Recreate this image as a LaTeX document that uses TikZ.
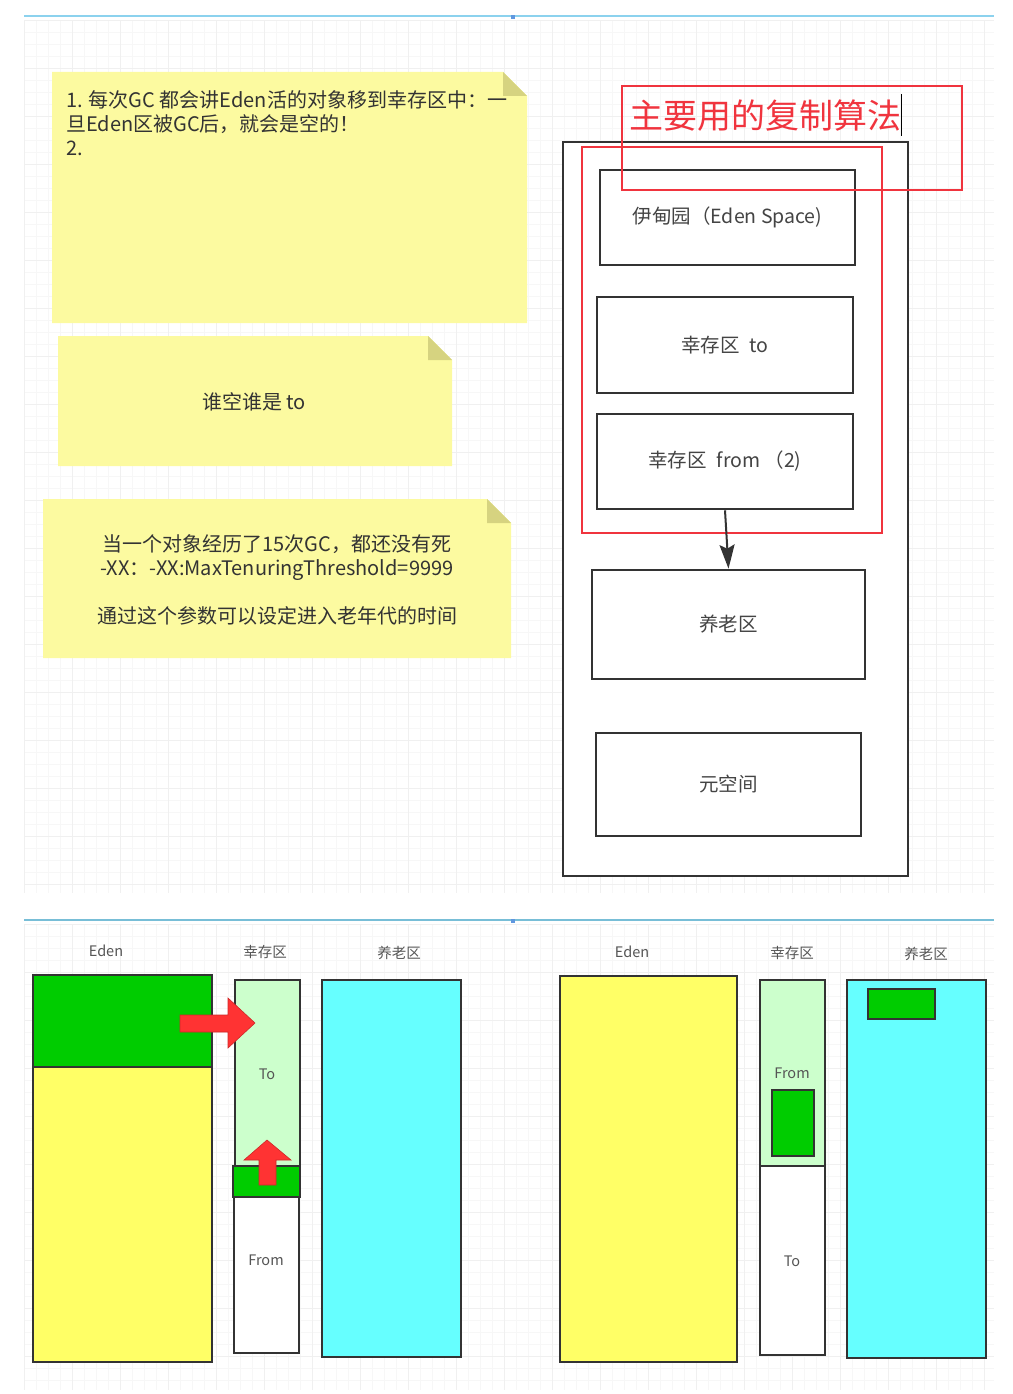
\documentclass[tikz,border=0pt]{standalone}
\usepackage{fontspec}
\newfontfamily\cjk{Noto Sans CJK SC}
\usetikzlibrary{arrows.meta}
\definecolor{notefill}{RGB}{252,250,160}
\definecolor{notefold}{RGB}{214,211,128}
\definecolor{linegray}{RGB}{51,51,51}
\definecolor{notegray}{RGB}{51,51,51}
\definecolor{boxgray}{RGB}{68,68,68}
\definecolor{labelgray}{RGB}{85,85,85}
\definecolor{redline}{RGB}{240,52,62}
\definecolor{edenyellow}{RGB}{255,255,102}
\definecolor{objgreen}{RGB}{0,204,0}
\definecolor{survgreen}{RGB}{204,255,204}
\definecolor{oldcyan}{RGB}{102,255,255}
\definecolor{arrowred}{RGB}{255,51,51}
\definecolor{arrowedge}{RGB}{205,40,40}
\definecolor{pageblue}{RGB}{140,210,238}
\definecolor{pageblue2}{RGB}{120,190,215}
\newcommand{\stickynote}[4]{%
	\fill[notefill] (#1,#2) -- ({#3-24},#2) -- (#3,{#2+24}) -- (#3,#4) -- (#1,#4) -- cycle;
	\fill[notefold] ({#3-24},#2) -- ({#3-24},{#2+24}) -- (#3,{#2+24}) -- cycle;}

\begin{document}
\begin{tikzpicture}[x=1pt,y=-1pt,
	membox/.style={draw=linegray,line width=2.6pt,fill=white,inner sep=0pt,text=boxgray,font={\cjk\fontsize{19.5}{24}\selectfont}},
	redframe/.style={draw=redline,line width=2pt,inner sep=0pt},
	notetext/.style={inner sep=0pt,text=notegray,font={\cjk\fontsize{20}{24}\selectfont}},
	zonelabel/.style={inner sep=0pt,text=labelgray,font={\cjk\fontsize{14.5}{17}\selectfont}},
	blockline/.style={draw=linegray,line width=2pt},
	bigarrow/.style={fill=arrowred,draw=arrowedge,line width=0.6pt},
	minorgrid/.style={gray!6,line width=0.6pt},
	majorgrid/.style={gray!12,line width=0.6pt}]
	\useasboundingbox (0,0) rectangle (1012,1394);
	%GRID
	\foreach \gx in {24,36,...,994} {\draw[minorgrid] (\gx,20) -- (\gx,893); \draw[minorgrid] (\gx,924) -- (\gx,1390);}
	\foreach \gy in {20,32,...,893,924,936,...,1390} \draw[minorgrid] (24,\gy) -- (994,\gy);
	\foreach \gx in {24,72,...,994} {\draw[majorgrid] (\gx,20) -- (\gx,893); \draw[majorgrid] (\gx,924) -- (\gx,1390);}
	\foreach \gy in {20,68,...,893,924,972,...,1390} \draw[majorgrid] (24,\gy) -- (994,\gy);
	\draw[pageblue,line width=2pt] (24,16) -- (994,16);
	\fill[pageblue2!80!blue] (511,15) rectangle (515,19);
	\draw[pageblue2,line width=2pt] (24,920) -- (994,920);
	\fill[pageblue2!80!blue] (511,919) rectangle (515,923);
	%NOTES
	\stickynote{52}{72}{527}{323}
	\node[notetext,anchor=north west,align=left] (note1) at (66,90) {1. 每次GC 都会讲Eden活的对象移到幸存区中：一\\旦Eden区被GC后，就会是空的！\\2.};
	\stickynote{58}{336}{452}{466}
	\node[notetext] (note2) at (254,402) {谁空谁是 to};
	\stickynote{43}{499}{511}{658}
	\node[notetext,align=center] (note3) at (277,580) {当一个对象经历了15次GC，都还没有死\\-XX：-XX:MaxTenuringThreshold=9999\\[24pt]通过这个参数可以设定进入老年代的时间};
	%HEAP
	\node[membox,minimum width=345pt,minimum height=734pt] (heap) at (735.5,509) {};
	\node[redframe,minimum width=300pt,minimum height=386pt] (copyzone) at (732,340) {};
	\node[membox,fill=none,minimum width=255pt,minimum height=95pt] (edenb) at (727.5,217.5) {伊甸园（Eden Space)};
	\node[membox,minimum width=256pt,minimum height=96pt] (tob) at (725,345) {幸存区\enspace to};
	\node[membox,minimum width=256pt,minimum height=95pt] (fromb) at (725,461.5) {幸存区\enspace from （2)};
	\node[membox,minimum width=273pt,minimum height=109pt] (oldb) at (728.5,624.5) {养老区};
	\node[membox,minimum width=265pt,minimum height=103pt] (metab) at (728.5,784.5) {元空间};
	\draw[linegray,line width=2pt,-{Stealth[length=24pt,width=15pt,inset=4pt]}] (fromb.south) -- (oldb.north);
	\node[redframe,minimum width=340pt,minimum height=104pt] (titlebox) at (792,138) {};
	\node[inner sep=0pt,anchor=west,text=redline,font={\cjk\fontsize{34}{38}\selectfont}] (titletext) at (629,116) {主要用的复制算法};
	\draw[black,line width=1pt] (901,94) -- (901,136);
	%BEFORE GC
	\node[zonelabel] (edenl1) at (106,951) {Eden};
	\node[zonelabel] (survl1) at (265,952) {幸存区};
	\node[zonelabel] (oldl1) at (399,953) {养老区};
	\draw[blockline,fill=edenyellow] (33,975) rectangle (212,1362);
	\draw[blockline,fill=objgreen] (33,975) rectangle (212,1067);
	\draw[blockline,fill=survgreen] (235,980) rectangle (300,1166);
	\draw[blockline,fill=white] (234,1197) rectangle (299,1353);
	\draw[blockline,fill=objgreen] (233,1166) rectangle (300,1197);
	\draw[blockline,fill=oldcyan] (322,980) rectangle (461,1357);
	\node[zonelabel] (tol1) at (267,1074) {To};
	\node[zonelabel] (froml1) at (266,1260) {From};
	\draw[bigarrow] (180,1015) -- (228,1015) -- (228,998) -- (255,1023) -- (228,1048) -- (228,1032) -- (180,1032) -- cycle;
	\draw[bigarrow] (259,1185) -- (259,1160) -- (244,1160) -- (267,1140) -- (291,1160) -- (276,1160) -- (276,1185) -- cycle;
	%AFTER GC
	\node[zonelabel] (edenl2) at (632,952) {Eden};
	\node[zonelabel] (survl2) at (792,953) {幸存区};
	\node[zonelabel] (oldl2) at (926,954) {养老区};
	\draw[blockline,fill=edenyellow] (560,976) rectangle (737,1362);
	\draw[blockline,fill=survgreen] (760,980) rectangle (825,1166);
	\draw[blockline,fill=white] (760,1166) rectangle (825,1355);
	\draw[blockline,fill=objgreen] (772,1090) rectangle (814,1156);
	\draw[blockline,fill=oldcyan] (847,980) rectangle (986,1358);
	\draw[blockline,fill=objgreen] (868,989) rectangle (935,1019);
	\node[zonelabel] (froml2) at (792,1073) {From};
	\node[zonelabel] (tol2) at (792,1261) {To};
\end{tikzpicture}
\end{document}
